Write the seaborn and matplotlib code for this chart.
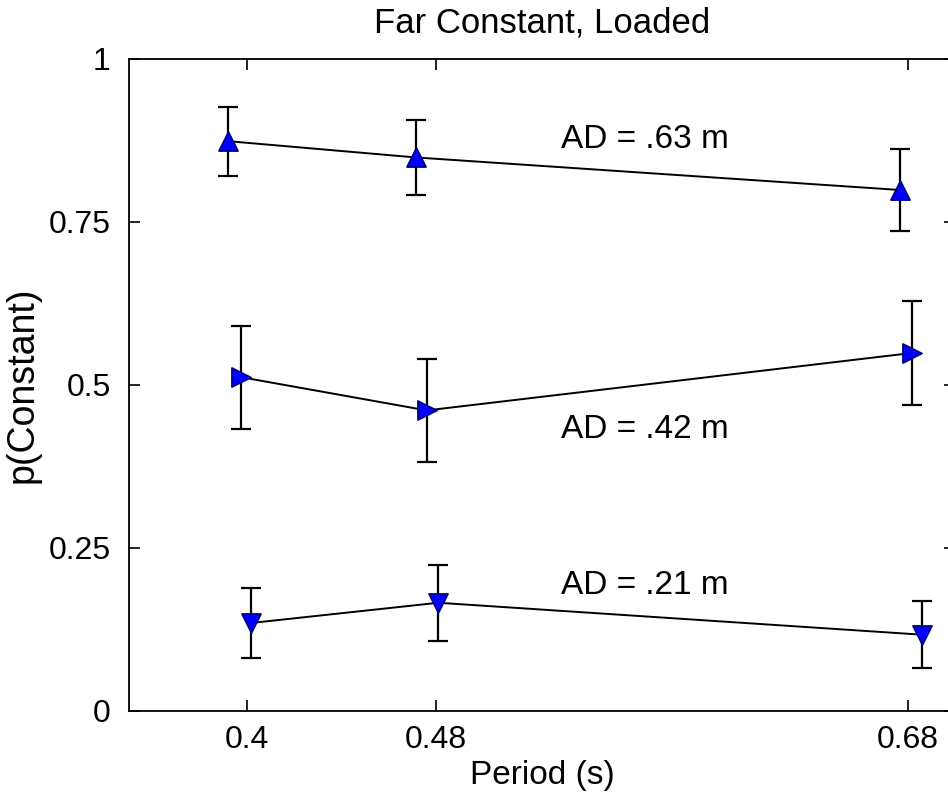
import numpy as np
import pandas as pd
import seaborn as sns
import matplotlib
matplotlib.use("Agg")
import matplotlib.pyplot as plt

# values
# each series is one arm distance (AD), x = measured period in s
periods_63 = [0.3918, 0.4715, 0.6769]
pconst_63 = [0.874, 0.849, 0.799]
err_63 = [0.053, 0.057, 0.063]

periods_42 = [0.3975, 0.4762, 0.6816]
pconst_42 = [0.512, 0.461, 0.549]
err_42 = [0.079, 0.079, 0.080]

periods_21 = [0.4018, 0.4811, 0.6861]
pconst_21 = [0.135, 0.166, 0.117]
err_21 = [0.054, 0.058, 0.051]

series_labels = ["AD = .63 m", "AD = .42 m", "AD = .21 m"]
label_pos_y = [0.876, 0.431, 0.193]

x_ticks = [0.4, 0.48, 0.68]
x_ticklabels = ["0.4", "0.48", "0.68"]
y_ticks = [0, 0.25, 0.5, 0.75, 1]
y_ticklabels = ["0", "0.25", "0.5", "0.75", "1"]

sns.set_style("white")
plt.rcParams['font.family'] = ['Liberation Sans', 'DejaVu Sans']
plt.rcParams['text.color'] = 'black'
plt.rcParams['axes.labelcolor'] = 'black'
plt.rcParams['xtick.color'] = 'black'
plt.rcParams['ytick.color'] = 'black'

df = pd.concat([
    pd.DataFrame({"Period": periods_63, "p": pconst_63, "err": err_63, "AD": series_labels[0]}),
    pd.DataFrame({"Period": periods_42, "p": pconst_42, "err": err_42, "AD": series_labels[1]}),
    pd.DataFrame({"Period": periods_21, "p": pconst_21, "err": err_21, "AD": series_labels[2]}),
], ignore_index=True)

marker_map = {series_labels[0]: "^", series_labels[1]: ">", series_labels[2]: "v"}

fig = plt.figure(figsize=(9.48, 7.96), dpi=100)
ax = fig.add_axes([0.136, 0.1068, 0.8714, 0.8191])

# error bars first so the markers sit on top
for lab, grp in df.groupby("AD", sort=False):
    ax.errorbar(grp["Period"], grp["p"], yerr=grp["err"], fmt="none",
                ecolor="black", elinewidth=1.6, capsize=7, capthick=1.6, zorder=2)

sns.lineplot(data=df, x="Period", y="p", units="AD", estimator=None, sort=False,
             color="black", linewidth=1.4, ax=ax, legend=False, zorder=2)

for lab, grp in df.groupby("AD", sort=False):
    sns.scatterplot(x=grp["Period"], y=grp["p"], marker=marker_map[lab], s=190,
                    color="#0000ff", edgecolor="#000080", linewidth=1.2,
                    ax=ax, legend=False, zorder=3)

for lab, yy in zip(series_labels, label_pos_y):
    ax.text(0.533, yy, lab, fontsize=24, ha="left", va="center", color="black")

ax.set_xlim(0.35, 0.70)
ax.set_ylim(0, 1)
ax.set_xticks(x_ticks)
ax.set_xticklabels(x_ticklabels)
ax.set_yticks(y_ticks)
ax.set_yticklabels(y_ticklabels)
ax.tick_params(direction="in", length=8, width=1.2, labelsize=23, color="black",
               top=True, right=True, bottom=True, left=True, pad=10)
ax.tick_params(axis="y", pad=13)

for sp in ax.spines.values():
    sp.set_visible(True)
    sp.set_color("black")
    sp.set_linewidth(1.3)

ax.set_xlabel("Period (s)", fontsize=24, labelpad=4)
ax.set_ylabel("p(Constant)", fontsize=27, labelpad=6)
ax.set_title("Far Constant, Loaded", fontsize=25, pad=19)

fig.savefig("out.png", dpi=100, facecolor="white")
